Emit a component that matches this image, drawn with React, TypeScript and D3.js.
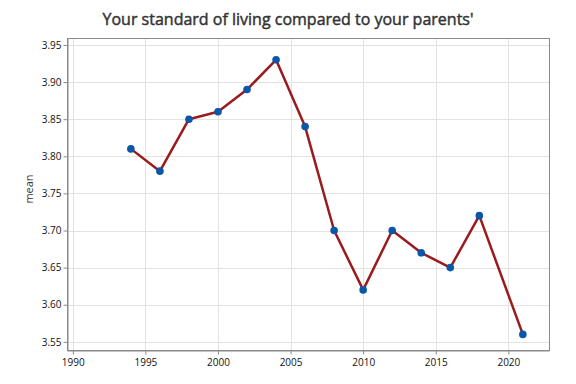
import React, { useRef, useEffect } from 'react';
import * as d3 from 'd3';

const years: number[] = [1994, 1996, 1998, 2000, 2002, 2004, 2006, 2008, 2010, 2012, 2014, 2016, 2018, 2021];
const means: number[] = [3.81, 3.78, 3.85, 3.86, 3.89, 3.93, 3.84, 3.70, 3.62, 3.70, 3.67, 3.65, 3.72, 3.56];
const xTicks: number[] = [1990, 1995, 2000, 2005, 2010, 2015, 2020];
const yTicks: number[] = [3.55, 3.60, 3.65, 3.70, 3.75, 3.80, 3.85, 3.90, 3.95];

const Chart: React.FC = () => {
  const svgRef = useRef<SVGSVGElement | null>(null);

  useEffect(() => {
    if (!svgRef.current) return;
    const svg = d3.select(svgRef.current);
    const width = 576;
    const height = 384;
    const margin = { top: 38, right: 27, bottom: 34, left: 67 };
    const font = "'Open Sans', 'Noto Sans', sans-serif";

    svg.selectAll('*').remove();

    // outer border
    svg.append('rect')
      .attr('x', 0.5).attr('y', 0.5)
      .attr('width', width - 1).attr('height', height - 1)
      .attr('fill', '#fff').attr('stroke', '#dcdcdc');

    const x = d3.scaleLinear()
      .domain([1989.6, 2022.8])
      .range([margin.left, width - margin.right]);

    const y = d3.scaleLinear()
      .domain([3.539, 3.9594])
      .range([height - margin.bottom, margin.top]);

    // grid
    const grid = svg.append('g').attr('stroke', '#e3e3e3').attr('stroke-width', 1);
    grid.selectAll('line.v')
      .data(xTicks)
      .join('line')
      .attr('x1', d => Math.round(x(d)) + 0.5).attr('x2', d => Math.round(x(d)) + 0.5)
      .attr('y1', margin.top).attr('y2', height - margin.bottom);
    grid.selectAll('line.h')
      .data(yTicks)
      .join('line')
      .attr('class', 'h')
      .attr('y1', d => Math.round(y(d)) + 0.5).attr('y2', d => Math.round(y(d)) + 0.5)
      .attr('x1', margin.left).attr('x2', width - margin.right);

    // frame
    svg.append('rect')
      .attr('x', margin.left + 0.5).attr('y', margin.top + 0.5)
      .attr('width', width - margin.left - margin.right)
      .attr('height', height - margin.top - margin.bottom)
      .attr('fill', 'none').attr('stroke', '#8a8a8a');

    // x axis
    const xAxis = svg.append('g')
      .attr('transform', `translate(0,${height - margin.bottom + 0.5})`)
      .call(d3.axisBottom(x).tickValues(xTicks).tickFormat(d3.format('d')).tickSize(4).tickSizeOuter(0));
    xAxis.select('.domain').attr('stroke', '#8a8a8a');
    xAxis.selectAll('line').attr('stroke', '#8a8a8a');
    xAxis.selectAll('text').attr('font-family', font).attr('font-size', 10).attr('fill', '#111').attr('dy', '0.85em');

    // y axis
    const yAxis = svg.append('g')
      .attr('transform', `translate(${margin.left + 0.5},0)`)
      .call(d3.axisLeft(y).tickValues(yTicks).tickFormat(d3.format('.2f')).tickSize(4).tickSizeOuter(0));
    yAxis.select('.domain').attr('stroke', '#8a8a8a');
    yAxis.selectAll('line').attr('stroke', '#8a8a8a');
    yAxis.selectAll('text').attr('font-family', font).attr('font-size', 10).attr('fill', '#111').attr('x', -6);

    // line
    const pts = years.map((yr, i) => ({ yr, v: means[i] }));
    const line = d3.line<{ yr: number; v: number }>()
      .x(d => x(d.yr))
      .y(d => y(d.v));
    svg.append('path')
      .datum(pts)
      .attr('fill', 'none')
      .attr('stroke', '#9a1b1e')
      .attr('stroke-width', 2.5)
      .attr('stroke-linejoin', 'round')
      .attr('d', line);

    svg.append('g')
      .selectAll('circle')
      .data(pts)
      .join('circle')
      .attr('cx', d => x(d.yr))
      .attr('cy', d => y(d.v))
      .attr('r', 3.8)
      .attr('fill', '#0a56a8');

    // title
    svg.append('text')
      .attr('x', 288).attr('y', 25)
      .attr('text-anchor', 'middle')
      .attr('font-family', font)
      .attr('font-size', 16)
      .attr('fill', '#333')
      .attr('stroke', '#333')
      .attr('stroke-width', 0.45)
      .text("Your standard of living compared to your parents'");

    // y label
    svg.append('text')
      .attr('transform', `translate(33,189) rotate(-90)`)
      .attr('text-anchor', 'middle')
      .attr('font-family', font)
      .attr('font-size', 11)
      .attr('fill', '#333')
      .text('mean');
  }, []);

  return <svg ref={svgRef} width={576} height={384} style={{ display: 'block' }}></svg>;
};

export default function App() {
  return (
    <div style={{ margin: -8 }}>
      <Chart />
    </div>
  );
}
